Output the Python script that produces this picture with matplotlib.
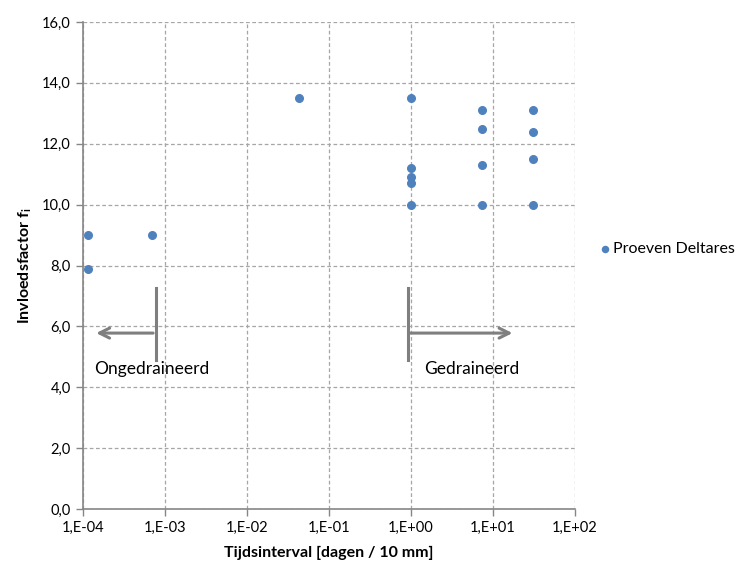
import matplotlib.pyplot as plt
from matplotlib.ticker import FixedLocator, FuncFormatter

# =====================
# Data
# =====================
tijd = [1.15e-4, 1.15e-4, 7.0e-4, 0.043,
        1.0, 1.0, 1.0, 1.0, 1.0,
        7.3, 7.3, 7.3, 7.3,
        31.0, 31.0, 31.0, 31.0]
factor = [9.0, 7.9, 9.0, 13.5,
          13.5, 11.2, 10.9, 10.7, 10.0,
          13.1, 12.5, 11.3, 10.0,
          13.1, 12.4, 11.5, 10.0]

x_ticks = [1e-4, 1e-3, 1e-2, 1e-1, 1e0, 1e1, 1e2]
x_tick_labels = ["1,E-04", "1,E-03", "1,E-02", "1,E-01", "1,E+00", "1,E+01", "1,E+02"]
y_ticks = [0, 2, 4, 6, 8, 10, 12, 14, 16]

# annotation positions (data coords)
ongedr_bar_x = 7.8e-4
ongedr_tip_x = 1.35e-4
gedr_bar_x = 0.91
gedr_tip_x = 18.7
bar_y = (4.9, 7.25)
arrow_y = 5.78
label_y = 4.6

plt.rcParams["font.family"] = ["Lato", "DejaVu Sans"]
plt.rcParams["mathtext.fontset"] = "custom"
plt.rcParams["mathtext.rm"] = "Lato:bold"

grey = "#868686"
blue = "#4F81BD"

fig = plt.figure(figsize=(7.37, 5.63), dpi=100)
ax = fig.add_axes([0.1122, 0.0959, 0.668, 0.865])

ax.scatter(tijd, factor, s=30, color=blue, zorder=3, label="Proeven Deltares")

ax.set_xscale("log")
ax.set_xlim(1e-4, 1e2)
ax.set_ylim(0, 16)
ax.xaxis.set_major_locator(FixedLocator(x_ticks))
ax.xaxis.set_minor_locator(FixedLocator([]))
ax.set_xticklabels(x_tick_labels)
ax.set_yticks(y_ticks)
ax.yaxis.set_major_formatter(FuncFormatter(lambda v, p: f"{v:.1f}".replace(".", ",")))

ax.grid(True, which="major", linestyle=(0, (3, 2)), color="#A6A6A6", linewidth=0.9)
ax.set_axisbelow(True)
for s in ["top", "right"]:
    ax.spines[s].set_visible(False)
for s in ["left", "bottom"]:
    ax.spines[s].set_color(grey)
    ax.spines[s].set_linewidth(1.2)
ax.tick_params(axis="both", colors=grey, labelcolor="black", labelsize=10.5, length=5, width=1)

ax.set_xlabel("Tijdsinterval [dagen / 10 mm]", fontsize=11.5, fontweight="bold", labelpad=8)
ax.set_ylabel(r"Invloedsfactor f$_\mathrm{i}$", fontsize=11.5, fontweight="bold", labelpad=6)

# Ongedraineerd / Gedraineerd markers
arrow_kw = dict(arrowstyle="->", color="#7F7F7F", lw=2.2, mutation_scale=18)
ax.plot([ongedr_bar_x, ongedr_bar_x], bar_y, color="#7F7F7F", lw=2.2, zorder=4)
ax.annotate("", xy=(ongedr_tip_x, arrow_y), xytext=(ongedr_bar_x, arrow_y), arrowprops=arrow_kw)
ax.text(1.38e-4, label_y, "Ongedraineerd", fontsize=12.5, va="center", ha="left")

ax.plot([gedr_bar_x, gedr_bar_x], bar_y, color="#7F7F7F", lw=2.2, zorder=4)
ax.annotate("", xy=(gedr_tip_x, arrow_y), xytext=(gedr_bar_x, arrow_y), arrowprops=arrow_kw)
ax.text(1.46, label_y, "Gedraineerd", fontsize=12.5, va="center", ha="left")

fig.legend(loc="center left", bbox_to_anchor=(0.814, 0.558), frameon=False, fontsize=11.5,
           handletextpad=0.25, handlelength=0.6, markerscale=0.8, borderaxespad=0,
           borderpad=0)

fig.savefig("out.png", dpi=100)
